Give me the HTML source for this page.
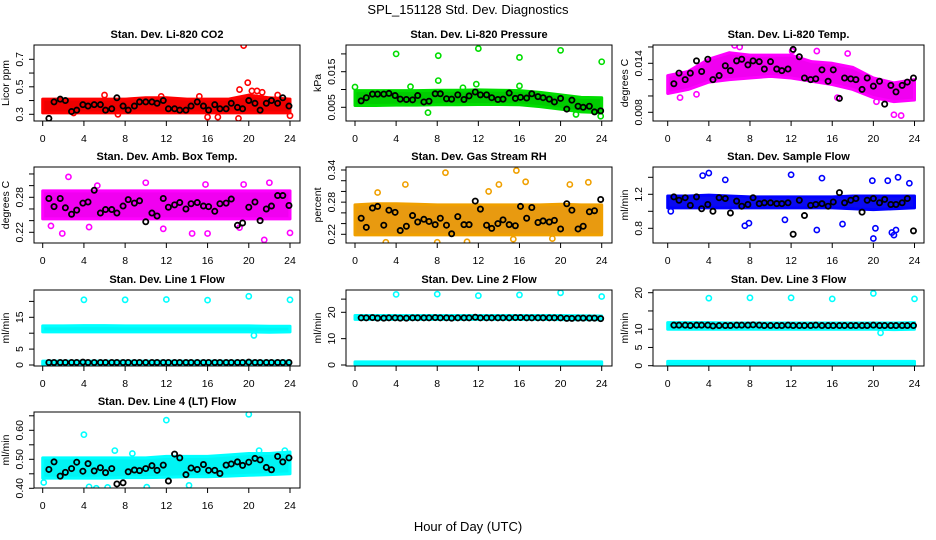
<!DOCTYPE html>
<html><head><meta charset="utf-8"><style>
html,body{margin:0;padding:0;background:#fff;}
svg{display:block;font-family:"Liberation Sans",Arial,sans-serif;}
</style></head><body>
<svg id="chart" width="936" height="540" viewBox="0 0 936 540" xmlns="http://www.w3.org/2000/svg">
<text x="468" y="14" text-anchor="middle" font-size="13">SPL_151128  Std. Dev. Diagnostics</text>
<text x="468" y="531" text-anchor="middle" font-size="13">Hour of Day (UTC)</text>
</svg>
<script>
// ---- shared data ----
const xTicks = [0,4,8,12,16,20,24];
const bandHours = [0,2,4,6,8,10,12,14,16,18,20,22,24];
const blackHours = [0.6,1.1,1.7,2.2,2.8,3.3,3.9,4.4,5.0,5.6,6.1,6.7,7.2,7.8,8.3,8.9,9.4,10.0,10.6,11.1,11.7,12.2,12.8,13.3,13.9,14.4,15.0,15.6,16.1,16.7,17.2,17.8,18.3,18.9,19.4,20.0,20.6,21.1,21.7,22.2,22.8,23.3,23.9];

const titles = ["Stan. Dev. Li-820 CO2","Stan. Dev. Li-820 Pressure","Stan. Dev. Li-820 Temp.","Stan. Dev. Amb. Box Temp.","Stan. Dev. Gas Stream RH","Stan. Dev. Sample Flow","Stan. Dev. Line 1 Flow","Stan. Dev. Line 2 Flow","Stan. Dev. Line 3 Flow","Stan. Dev. Line 4 (LT) Flow"];
const yTitles = ["Licor ppm","kPa","degrees C","degrees C","percent","ml/min","ml/min","ml/min","ml/min","ml/min"];

const yTicks = [[0.3,0.4,0.5,0.6,0.7],[0.005,0.010,0.015,0.020],[0.008,0.010,0.012,0.014,0.016],[0.22,0.24,0.26,0.28,0.30,0.32],[0.22,0.24,0.26,0.28,0.30,0.32,0.34],[0.8,1.0,1.2,1.4],[0,5,10,15,20],[0,10,20,25],[0,5,10,15,20],[0.40,0.45,0.50,0.55,0.60,0.65]];
const yTickLabels = [["0.3","","0.5","","0.7"],["0.005","","0.015",""],["0.008","","","0.014",""],["0.22","","","0.28","",""],["0.22","","","0.28","","","0.34"],["0.8","","1.2",""],["0","5","","15",""],["0","10","20",""],["0","5","10","","20"],["0.40","","0.50","","0.60",""]];

const bandLo = [
 [0.31,0.31,0.31,0.31,0.31,0.31,0.31,0.31,0.31,0.31,0.31,0.31,0.31],
 [0.0055,0.0055,0.0056,0.0056,0.0057,0.0057,0.0058,0.0058,0.0057,0.0052,0.0045,0.0037,0.0035],
 [0.0103,0.0108,0.0117,0.0120,0.0122,0.0124,0.0122,0.0118,0.0114,0.0108,0.0098,0.0093,0.0095],
 [0.243,0.243,0.243,0.243,0.243,0.243,0.243,0.243,0.243,0.243,0.243,0.243,0.243],
 [0.219,0.219,0.219,0.219,0.219,0.219,0.219,0.219,0.219,0.219,0.219,0.219,0.219],
 [1.04,1.04,1.04,1.04,1.04,1.04,1.04,1.04,1.04,1.03,1.02,1.03,1.04],
 [10.4,10.4,10.4,10.4,10.4,10.4,10.4,10.4,10.4,10.4,10.4,10.3,10.4],
 [17.3,17.3,17.3,17.3,17.3,17.3,17.3,17.3,17.3,17.3,17.2,17.2,17.2],
 [10.0,10.0,10.0,10.0,10.0,10.0,10.0,10.0,10.0,10.0,10.0,9.9,10.0],
 [0.435,0.435,0.435,0.435,0.437,0.437,0.438,0.44,0.44,0.442,0.445,0.447,0.45]
];
const bandHi = [
 [0.41,0.41,0.41,0.41,0.41,0.42,0.42,0.41,0.41,0.41,0.44,0.42,0.41],
 [0.0097,0.0097,0.0097,0.0097,0.0098,0.0098,0.0099,0.0098,0.0097,0.0092,0.0085,0.0078,0.0077],
 [0.0125,0.0130,0.0145,0.0153,0.0150,0.0150,0.0150,0.0142,0.0140,0.0135,0.0122,0.0116,0.0120],
 [0.291,0.291,0.291,0.291,0.291,0.291,0.291,0.291,0.291,0.291,0.291,0.291,0.291],
 [0.275,0.277,0.277,0.276,0.275,0.275,0.275,0.275,0.275,0.275,0.276,0.275,0.275],
 [1.18,1.18,1.19,1.18,1.17,1.17,1.17,1.17,1.17,1.18,1.18,1.18,1.18],
 [12.3,12.3,12.4,12.4,12.3,12.3,12.3,12.3,12.3,12.3,12.3,12.2,12.2],
 [18.8,18.8,18.8,18.8,18.8,18.8,18.8,18.8,18.8,18.8,18.8,18.7,18.6],
 [11.8,11.8,11.8,11.7,11.7,11.7,11.7,11.7,11.7,11.7,11.7,11.7,11.8],
 [0.505,0.505,0.505,0.505,0.505,0.505,0.51,0.51,0.51,0.515,0.52,0.52,0.525]
];
const band2Lo = [0.2,0.2,0.2,0.2,0.2,0.2,0.2,0.2,0.2,0.2,0.2,0.2,0.2];
const band2Hi = [1.2,1.2,1.2,1.2,1.2,1.2,1.2,1.2,1.2,1.2,1.2,1.2,1.2];

const outX = [
 [19.5,19.9,19.1,20.3,20.8,21.3,22.8,6.0,11.5,15.2,16.0,17.0,19.0,24.0,7.3,3.0],
 [4.0,8.1,12.0,16.0,20.0,24.0,8.1,11.8,0.0,5.4,10.5,16.0,7.1,21.5,23.9],
 [6.5,7.0,12.1,17.5,14.5,22.0,22.7,2.8,1.2,16.5,20.3],
 [2.5,5.3,10.0,15.8,19.5,22.0,0.8,1.9,14.5,16.0,21.5,24.0,4.5,11.7,19.1],
 [8.8,15.7,16.6,22.7,4.9,14.0,20.9,13.0,2.2,0.2,3.0,8.0,10.9,19.2,15.4],
 [3.4,4.0,12.0,15.0,22.4,5.6,19.9,21.4,23.5,0.3,7.5,11.4,14.5,17.0,20.0,20.2,21.8,22.0,22.2,7.9],
 [4,8,12,16,20,24,20.5],
 [4,8,12,16,20,24],
 [4,8,12,16,20,24,20.7],
 [4,12,20,0.1,4.5,5.2,6.3,10.1,14.2,7.0,8.7,21.0,23.5]
];
const outY = [
 [0.80,0.53,0.48,0.47,0.47,0.46,0.44,0.44,0.43,0.43,0.28,0.28,0.27,0.29,0.30,0.31],
 [0.020,0.0195,0.0215,0.019,0.021,0.0178,0.0125,0.0115,0.0107,0.0108,0.0105,0.011,0.0035,0.003,0.0025],
 [0.0162,0.0160,0.0155,0.0152,0.0155,0.0077,0.0076,0.0102,0.0098,0.0098,0.0093],
 [0.315,0.300,0.305,0.302,0.302,0.305,0.231,0.218,0.218,0.218,0.207,0.219,0.229,0.226,0.228],
 [0.335,0.339,0.318,0.317,0.313,0.313,0.313,0.300,0.298,0.270,0.205,0.205,0.206,0.212,0.211],
 [1.42,1.45,1.43,1.39,1.40,1.37,1.36,1.36,1.33,1.00,0.83,0.90,0.78,0.85,0.68,0.80,0.75,0.72,0.78,0.86],
 [20.5,20.5,20.6,20.4,21.6,20.5,9.3],
 [26.8,26.9,26.3,26.6,27.4,26.0],
 [18.5,18.6,18.6,18.3,19.8,18.3,9.0],
 [0.585,0.635,0.655,0.42,0.405,0.400,0.403,0.404,0.41,0.53,0.52,0.53,0.53]
];

const blackY = [
 [0.27,0.39,0.41,0.40,0.32,0.33,0.37,0.36,0.37,0.37,0.33,0.34,0.42,0.36,0.33,0.36,0.39,0.39,0.39,0.38,0.40,0.34,0.34,0.33,0.33,0.36,0.39,0.36,0.33,0.37,0.34,0.34,0.38,0.35,0.34,0.40,0.38,0.33,0.38,0.40,0.38,0.42,0.36],
 [0.0068,0.0077,0.0087,0.0087,0.0087,0.0089,0.0083,0.0073,0.0072,0.0071,0.0083,0.0065,0.0067,0.0088,0.0088,0.0074,0.0073,0.0085,0.0072,0.0082,0.0093,0.0085,0.0085,0.0077,0.0072,0.0073,0.0090,0.0075,0.0078,0.0076,0.0088,0.0080,0.0077,0.0073,0.0065,0.0075,0.0045,0.0070,0.0053,0.0050,0.0053,0.0037,0.0040],
 [0.0115,0.0128,0.0120,0.0128,0.0143,0.0130,0.0145,0.0120,0.0125,0.0137,0.0131,0.0143,0.0145,0.0138,0.0143,0.0142,0.0133,0.0142,0.0133,0.0131,0.0133,0.0157,0.0148,0.0122,0.0120,0.0121,0.0132,0.0118,0.0132,0.0097,0.0122,0.0121,0.0120,0.0108,0.0122,0.0112,0.0118,0.0090,0.0113,0.0105,0.0113,0.0117,0.0122],
 [0.278,0.264,0.278,0.262,0.251,0.258,0.270,0.272,0.292,0.253,0.259,0.259,0.253,0.265,0.276,0.270,0.274,0.238,0.253,0.248,0.278,0.263,0.267,0.271,0.260,0.269,0.271,0.265,0.264,0.256,0.269,0.270,0.277,0.232,0.236,0.263,0.272,0.240,0.260,0.265,0.283,0.283,0.266],
 [0.250,0.233,0.269,0.272,0.237,0.265,0.261,0.227,0.235,0.255,0.243,0.248,0.244,0.238,0.250,0.237,0.221,0.253,0.238,0.238,0.282,0.267,0.237,0.231,0.240,0.247,0.238,0.236,0.272,0.250,0.270,0.242,0.245,0.243,0.246,0.230,0.277,0.265,0.230,0.235,0.262,0.264,0.285],
 [1.17,1.13,1.16,1.07,1.17,1.03,1.08,1.00,1.16,1.15,0.98,1.12,1.06,1.08,1.16,1.09,1.10,1.10,1.09,1.09,1.10,0.73,1.13,0.95,1.07,1.08,1.09,1.06,1.11,1.22,1.10,1.13,1.15,0.99,1.13,1.15,1.10,1.14,1.08,1.08,1.10,1.15,0.77],
 [0.8,0.8,0.8,0.8,0.8,0.8,0.9,0.8,0.8,0.8,0.8,0.8,0.8,0.8,0.8,0.8,0.8,0.8,0.8,0.8,0.8,0.8,0.8,0.8,0.8,0.8,0.8,0.8,0.8,0.8,0.8,0.8,0.8,0.8,0.8,0.9,0.8,0.8,0.8,0.8,0.8,0.8,0.8],
 [17.9,17.9,18.0,17.8,17.8,17.9,17.9,17.8,17.8,17.9,17.9,17.9,17.9,18.0,17.9,17.9,17.8,17.9,17.9,17.9,18.1,17.9,17.9,17.9,17.9,17.9,17.9,18.0,18.0,17.9,17.9,17.9,17.9,17.9,17.9,17.9,17.7,17.7,17.8,17.8,17.8,17.8,17.6],
 [11.1,11.1,11.1,11.0,11.1,11.1,11.1,10.9,11.0,11.0,11.0,11.1,11.1,11.1,11.2,11.1,11.0,11.0,11.0,11.0,11.1,11.0,11.0,11.0,11.0,11.1,11.0,11.0,11.0,11.0,11.0,11.0,11.0,11.0,11.0,11.1,11.0,11.0,11.0,11.0,11.0,11.0,11.0],
 [0.465,0.491,0.442,0.455,0.468,0.490,0.459,0.485,0.460,0.471,0.454,0.468,0.415,0.419,0.457,0.463,0.461,0.468,0.478,0.462,0.480,0.425,0.518,0.505,0.447,0.470,0.465,0.482,0.462,0.462,0.451,0.480,0.484,0.491,0.479,0.490,0.503,0.498,0.472,0.464,0.510,0.491,0.505]
];

// ---- layout (not data) ----
const colors = ["#ff0000","#00dd00","#ff00ff","#ff00ff","#f0a000","#0000ff","#00ffff","#00ffff","#00ffff","#00ffff"];
const bandColors = ["#ee0000","#00cc00","#f000f0","#f000f0","#e89a10","#0a0af0","#00f4f4","#00f4f4","#00f4f4","#00f4f4"];
const colLeft = [34,346,653], colRight = [300,612,924];
const colX0 = [42.7,355,667.7], colX24 = [290,601.7,914.5];
const rowTop = [45,167,290,412], boxH = 76;
const yCal = [
 [0.3,114.3,0.7,59.3],[0.005,107.3,0.015,71.7],[0.008,112.3,0.014,63.3],
 [0.22,232.3,0.28,197.3],[0.22,234.3,0.34,170],[0.8,228.3,1.2,194.3],
 [0,365,15,317.3],[0,365,20,312.3],[0,365.7,20,292.7],[0.40,488.3,0.60,430.3]
];

const NS = "http://www.w3.org/2000/svg";
const svg = document.getElementById("chart");
function mk(tag, attrs, parent){
  const e = document.createElementNS(NS, tag);
  for (const k in attrs) e.setAttribute(k, attrs[k]);
  (parent||svg).appendChild(e);
  return e;
}

for (let p = 0; p < 10; p++){
  const c = p % 3, r = Math.floor(p / 3);
  const L = colLeft[c], R = colRight[c], T = rowTop[r], B = T + boxH;
  const xs = h => colX0[c] + (colX24[c] - colX0[c]) * h / 24;
  const cal = yCal[p];
  const ys = v => cal[1] + (cal[3] - cal[1]) * (v - cal[0]) / (cal[2] - cal[0]);

  const g = mk("g", {});
  
  

  const clipId = "clip" + p;
  const cp = mk("clipPath", {id: clipId}, g);
  mk("rect", {x: L, y: T, width: R-L, height: boxH}, cp);
  const plot = mk("g", {"clip-path": "url(#" + clipId + ")"}, g);
  
  

  const drawBand = (lo, hi, name) => {
    let pts = [];
    bandHours.forEach((h,i) => pts.push(xs(h) + "," + ys(hi[i])));
    for (let i = bandHours.length-1; i >= 0; i--) pts.push(xs(bandHours[i]) + "," + ys(lo[i]));
    const poly = mk("polygon", {points: pts.join(" "), fill: bandColors[p], stroke: colors[p], "stroke-width": 3, "stroke-linejoin": "round"}, plot);
    
    
  };
  drawBand(bandLo[p], bandHi[p], 'dense-band');
  if (p >= 6 && p <= 8) drawBand(band2Lo, band2Hi, 'dense-band-low');

  outX[p].forEach((h,i) => {
    const ci = mk("circle", {cx: xs(h), cy: ys(outY[p][i]), r: 2.6, fill: "none", stroke: colors[p], "stroke-width": 1.6}, plot);
    
    
  });
  blackHours.forEach((h,i) => {
    const ci = mk("circle", {cx: xs(h), cy: ys(blackY[p][i]), r: 2.6, fill: "none", stroke: "#000", "stroke-width": 1.8}, plot);
    
    
  });

  const fr = mk("rect", {x: L, y: T, width: R-L, height: boxH, fill: "none", stroke: "#000", "stroke-width": 1}, g);
  
  

  const tt = mk("text", {x: (L+R)/2, y: T - 7, "text-anchor": "middle", "font-size": 11, "font-weight": "bold"}, g);
  tt.textContent = titles[p];
  
  

  const xa = mk("g", {stroke: "#000", "stroke-width": 1}, g);
  
  
  mk("line", {x1: xs(0), x2: xs(24), y1: B, y2: B}, xa);
  xTicks.forEach(t => {
    mk("line", {x1: xs(t), x2: xs(t), y1: B, y2: B + 5}, xa);
    const lb = mk("text", {x: xs(t), y: B + 21, "text-anchor": "middle", "font-size": 10.5, stroke: "none", fill: "#000"}, g);
    lb.textContent = t;
    
    
  });

  const ya = mk("g", {stroke: "#000", "stroke-width": 1}, g);
  
  
  const tk = yTicks[p];
  mk("line", {x1: L, x2: L, y1: ys(tk[0]), y2: ys(tk[tk.length-1])}, ya);
  tk.forEach((t,i) => {
    mk("line", {x1: L - 5, x2: L, y1: ys(t), y2: ys(t)}, ya);
    const s = yTickLabels[p][i];
    if (s){
      const yy = ys(t);
      const lb = mk("text", {x: L - 11, y: yy, "text-anchor": "middle", "font-size": 10.5, transform: "rotate(-90 " + (L-11) + " " + yy + ")"}, g);
      lb.textContent = s;
      
      
    }
  });
  const yt = mk("text", {x: L - 25, y: (T+B)/2, "text-anchor": "middle", "font-size": 10.5, transform: "rotate(-90 " + (L-25) + " " + ((T+B)/2) + ")"}, g);
  yt.textContent = yTitles[p];
  
  
}
</script>
</body></html>
